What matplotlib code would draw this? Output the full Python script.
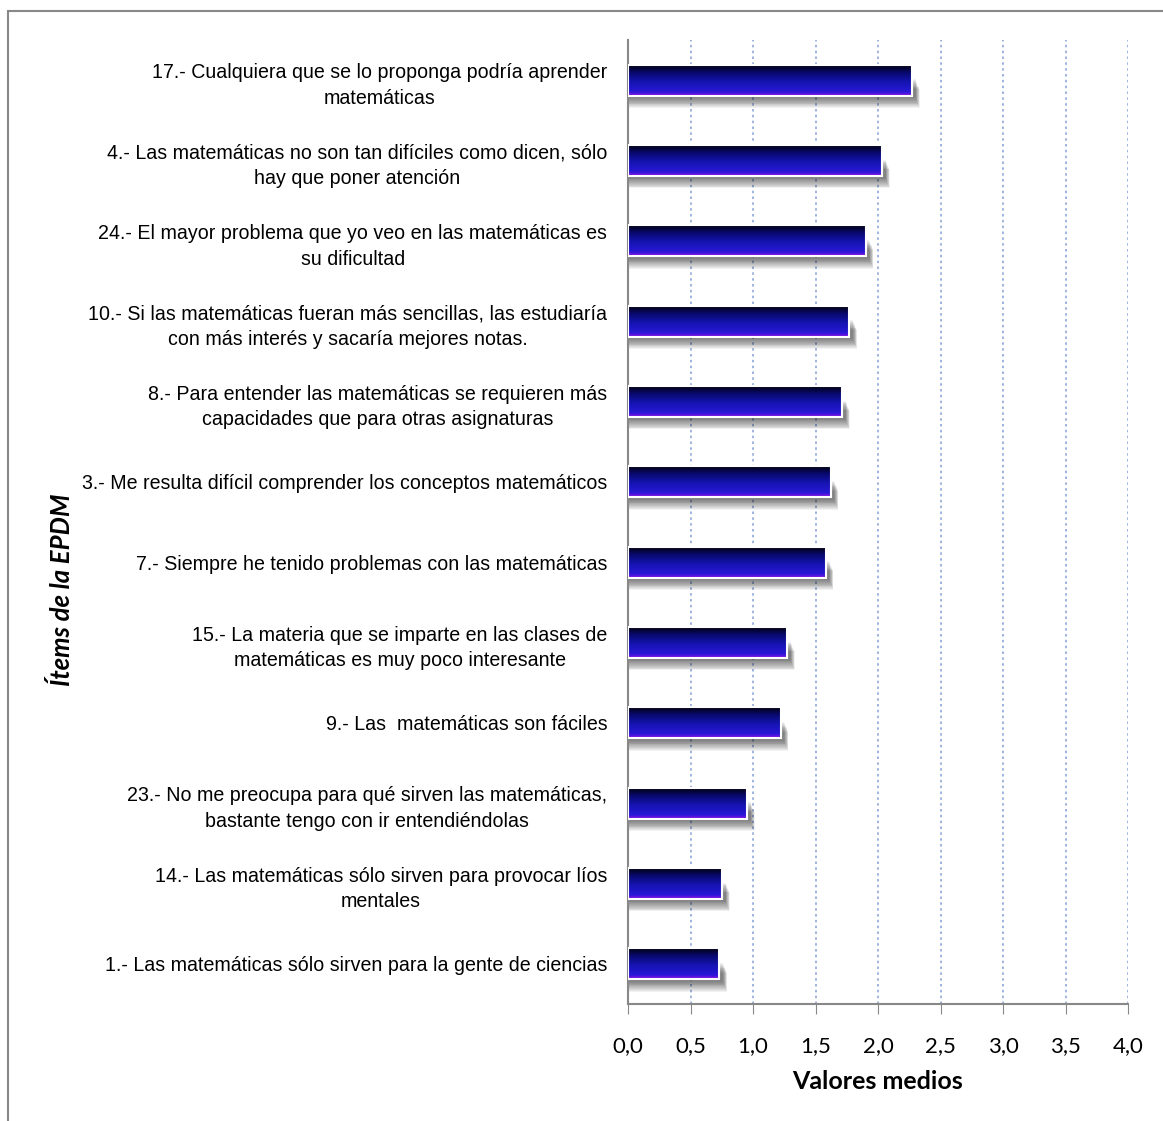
import numpy as np
import matplotlib
matplotlib.use("Agg")
import matplotlib.pyplot as plt
from matplotlib.patches import Rectangle
from matplotlib.colors import LinearSegmentedColormap

# Data (bottom to top)
items = [
    "1.- Las matemáticas sólo sirven para la gente de ciencias",
    "14.- Las matemáticas sólo sirven para provocar líos\nmentales",
    "23.- No me preocupa para qué sirven las matemáticas,\nbastante tengo con ir entendiéndolas",
    "9.- Las  matemáticas son fáciles",
    "15.- La materia que se imparte en las clases de\nmatemáticas es muy poco interesante",
    "7.- Siempre he tenido problemas con las matemáticas",
    "3.- Me resulta difícil comprender los conceptos matemáticos",
    "8.- Para entender las matemáticas se requieren más\ncapacidades que para otras asignaturas",
    "10.- Si las matemáticas fueran más sencillas, las estudiaría\ncon más interés y sacaría mejores notas.",
    "24.- El mayor problema que yo veo en las matemáticas es\nsu dificultad",
    "4.- Las matemáticas no son tan difíciles como dicen, sólo\nhay que poner atención",
    "17.- Cualquiera que se lo proponga podría aprender\nmatemáticas",
]
values = [0.73, 0.75, 0.95, 1.22, 1.27, 1.58, 1.62, 1.71, 1.77, 1.90, 2.03, 2.27]
xticks = [0.0, 0.5, 1.0, 1.5, 2.0, 2.5, 3.0, 3.5, 4.0]
xticklabels = ["0,0", "0,5", "1,0", "1,5", "2,0", "2,5", "3,0", "3,5", "4,0"]
xlabel = "Valores medios"
ylabel = "Ítems de la EPDM"

W, H = 1163, 1121
fig = plt.figure(figsize=(W / 100, H / 100), dpi=100)
ax = fig.add_axes([628 / W, 1 - 1004 / H, 500 / W, 964 / H])

cmap = LinearSegmentedColormap.from_list(
    "bar", [(0.0, "#9010e0"), (0.12, "#2a18d8"), (0.45, "#1414b0"), (0.75, "#08086a"), (1.0, "#000000")])
grad = np.linspace(0, 1, 64).reshape(-1, 1)

bh = 0.39
ypos = np.arange(len(values))
for y, v in zip(ypos, values):
    # soft shadow
    for k in range(12):
        off = 0.03 + k * 0.011
        sh = Rectangle((0.0, y - bh / 2 - off), v + 0.03 + k * 0.003, bh * 0.6,
                       facecolor="#000000", edgecolor="none", alpha=0.05, zorder=2)
        ax.add_patch(sh)
    rect = Rectangle((0, y - bh / 2), v, bh, facecolor="none", edgecolor="none", zorder=3)
    ax.add_patch(rect)
    im = ax.imshow(grad, cmap=cmap, aspect="auto", origin="lower",
                   extent=(0, v, y - bh / 2, y + bh / 2), zorder=3, interpolation="bilinear")
    im.set_clip_path(rect)
    ax.add_patch(Rectangle((0, y - bh / 2), v, bh, facecolor="none",
                           edgecolor="white", linewidth=1.5, zorder=4))

ax.set_xlim(0, 4.0)
ax.set_ylim(-0.5, len(values) - 0.5)
ax.set_xticks(xticks)
ax.set_xticklabels(xticklabels, fontfamily="Lato", fontsize=16)
ax.set_yticks(ypos)
ax.set_yticklabels(items, fontfamily="Liberation Sans", fontsize=14.1,
                   multialignment="center")
ax.tick_params(axis="y", length=0, pad=15)
ax.tick_params(axis="x", length=7, color="#888888", pad=16)
for t in ax.get_yticklabels():
    t.set_linespacing(1.45)

ax.grid(axis="x", color="#8fa8d8", linestyle=(0, (1.5, 2)), linewidth=1.2, zorder=0)
ax.set_axisbelow(True)
for s in ["top", "right"]:
    ax.spines[s].set_visible(False)
ax.spines["left"].set_color("#888888")
ax.spines["bottom"].set_color("#888888")
ax.spines["left"].set_linewidth(1.5)
ax.spines["bottom"].set_linewidth(1.5)

ax.set_xlabel(xlabel, fontfamily="Lato", fontweight="bold", fontsize=18, labelpad=10)
fig.text(62 / W, 1 - 590 / H, ylabel, rotation=90, ha="center", va="center",
         fontfamily="Lato", fontweight="bold", fontstyle="italic", fontsize=18.5)

fig.patches.append(Rectangle((8 / W, -0.1), 1.2, 1.1 - 11 / H, transform=fig.transFigure,
                             facecolor="none", edgecolor="#888888", linewidth=1.5))

fig.savefig("out.png", dpi=100)
